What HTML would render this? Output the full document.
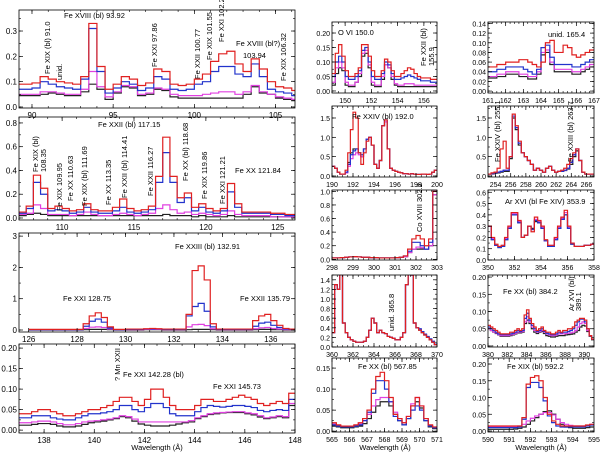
<!DOCTYPE html>
<html><head><meta charset="utf-8"><style>
html,body{margin:0;padding:0;background:#fff;}
svg{display:block;font-family:"Liberation Sans",sans-serif;}
</style></head><body>
<svg id="fig" width="600" height="453" viewBox="0 0 600 453"></svg>
<script>
// ---------- DATA (wavelength bin start/step, series values) ----------
const p1Start=89.25, p1Step=0.5;
const p1Red=[.09,.09,.095,.12,.11,.10,.095,.09,.12,.33,.16,.07,.09,.12,.11,.085,.095,.15,.14,.09,.085,.09,.11,.13,.18,.21,.22,.17,.14,.19,.15,.10,.08,.075,.065];
const p1Blue=[.07,.07,.075,.10,.09,.08,.075,.07,.11,.31,.14,.055,.075,.10,.09,.065,.075,.12,.11,.07,.065,.07,.09,.10,.14,.16,.16,.13,.12,.17,.12,.07,.06,.055,.045];
const p1Mag=[.05,.05,.05,.06,.06,.055,.05,.05,.07,.14,.08,.04,.06,.085,.08,.05,.055,.075,.07,.05,.045,.045,.045,.05,.055,.06,.06,.05,.06,.085,.06,.05,.04,.035,.03];
const p1Blk=[.045,.045,.045,.05,.055,.05,.045,.045,.06,.09,.07,.03,.055,.08,.075,.045,.05,.07,.065,.04,.035,.035,.035,.035,.035,.035,.035,.035,.05,.08,.055,.05,.035,.03,.025];

const p2Start=107.25, p2Step=0.5;
const p2Red=[.05,.1,.36,.25,.08,.1,.08,.06,.07,.12,.07,.06,.06,.09,.16,.08,.06,.07,.1,.35,.68,.35,.17,.21,.09,.12,.08,.06,.08,.29,.12,.05,.05,.05,.05,.04,.04,.03,.03];
const p2Blue=[.04,.08,.3,.2,.06,.07,.06,.04,.05,.09,.05,.04,.04,.06,.09,.05,.04,.05,.07,.3,.55,.3,.13,.17,.06,.09,.05,.04,.06,.22,.09,.04,.04,.04,.04,.03,.03,.02,.02];
const p2Mag=[.03,.04,.11,.08,.03,.03,.03,.02,.03,.05,.03,.02,.02,.03,.04,.03,.02,.03,.04,.08,.11,.07,.04,.05,.03,.04,.03,.02,.03,.06,.03,.02,.02,.02,.02,.01,.01,.01,.01];
const p2Blk=[.02,.03,.04,.03,.02,.02,.02,.02,.02,.02,.02,.02,.02,.02,.02,.02,.02,.02,.02,.02,.03,.02,.02,.02,.01,.02,.01,.01,.01,.02,.01,.01,.01,.01,.01,.01,.01,.01,.01];

const p3Start=126.125, p3Step=0.25;
const p3Red=[.02,.02,.02,.02,.02,.02,.02,.02,.02,.2,.45,.55,.4,.1,.02,.02,.03,.03,.03,.04,.05,.04,.03,.03,.03,.03,.5,1.9,2.05,1.6,.2,.03,.03,.03,.03,.03,.03,.3,.45,.5,.3,.15,.05,.03];
const p3Blue=[.01,.01,.01,.01,.01,.01,.01,.01,.01,.12,.28,.35,.25,.06,.01,.01,.02,.02,.02,.03,.03,.03,.02,.02,.02,.02,.45,.75,.85,.6,.1,.02,.02,.02,.02,.02,.02,.12,.22,.25,.15,.08,.03,.02];
const p3Mag=[.01,.01,.01,.01,.01,.01,.01,.01,.01,.05,.09,.1,.08,.03,.01,.01,.01,.01,.01,.02,.02,.02,.01,.01,.01,.01,.1,.17,.18,.14,.04,.01,.01,.01,.01,.01,.01,.04,.07,.08,.05,.03,.01,.01];
const p3Blk=[0,0,0,0,0,0,0,0,0,.01,.02,.02,.02,.01,0,0,0,0,0,.01,.01,.01,0,0,0,0,.01,.02,.02,.02,.01,0,0,0,0,0,0,.01,.02,.02,.01,.01,0,0];

const p4Start=137.125, p4Step=0.25;
const p4Red=[.04,.04,.045,.05,.05,.045,.04,.035,.035,.04,.045,.05,.05,.055,.06,.07,.08,.08,.07,.06,.075,.1,.1,.08,.06,.05,.05,.05,.06,.075,.075,.07,.07,.075,.08,.085,.08,.075,.065,.06,.065,.07,.065,.09];
const p4Blue=[.03,.03,.035,.035,.035,.03,.027,.025,.025,.03,.035,.04,.04,.042,.045,.05,.06,.06,.05,.045,.055,.065,.065,.055,.04,.035,.035,.035,.045,.055,.06,.058,.056,.058,.06,.06,.058,.055,.048,.045,.048,.05,.048,.075];
const p4Mag=[.018,.018,.02,.022,.022,.02,.016,.013,.013,.016,.02,.022,.023,.025,.027,.03,.035,.033,.027,.02,.02,.02,.02,.02,.02,.02,.02,.023,.03,.035,.04,.042,.043,.044,.045,.045,.042,.04,.035,.03,.032,.035,.033,.065];
const p4Blk=[.012,.012,.014,.016,.016,.014,.01,.008,.008,.01,.014,.018,.02,.022,.025,.028,.033,.03,.022,.015,.012,.01,.01,.01,.012,.015,.018,.02,.028,.033,.038,.04,.042,.043,.043,.043,.04,.037,.032,.028,.03,.033,.03,.06];

const r1Start=149.125, r1Step=0.25;
const r1Red=[.06,.13,.16,.12,.07,.05,.05,.06,.08,.16,.16,.12,.07,.05,.05,.07,.11,.1,.07,.05,.05,.06,.07,.08,.075,.06,.05,.045,.045,.045,.04,.04];
const r1Blue=[.05,.1,.12,.1,.05,.04,.04,.05,.07,.14,.15,.1,.05,.04,.04,.06,.1,.09,.06,.04,.04,.045,.05,.055,.05,.045,.04,.035,.035,.035,.03,.03];
const r1Mag=[.03,.08,.1,.08,.03,.02,.02,.03,.06,.13,.14,.09,.03,.02,.02,.05,.09,.08,.05,.025,.02,.02,.025,.025,.025,.02,.02,.02,.02,.02,.02,.02];
const r1Blk=[.02,.06,.08,.07,.02,.015,.015,.03,.05,.12,.13,.08,.02,.015,.015,.04,.09,.08,.04,.02,.015,.015,.015,.015,.015,.015,.015,.015,.015,.015,.015,.015];

const c1Start=161.125, c1Step=0.25;
const c1Red=[.05,.05,.055,.055,.06,.06,.06,.065,.065,.06,.055,.05,.06,.1,.105,.08,.08,.095,.09,.075,.07,.075,.08,.085];
const c1Blue=[.04,.04,.045,.045,.05,.05,.05,.05,.045,.04,.035,.045,.09,.095,.07,.055,.055,.055,.055,.05,.05,.055,.06,.065];
const c1Mag=[.03,.03,.035,.035,.04,.04,.04,.035,.035,.03,.03,.04,.08,.085,.06,.045,.045,.045,.045,.04,.04,.045,.05,.055];
const c1Blk=[.027,.027,.03,.03,.035,.035,.035,.03,.03,.025,.025,.035,.075,.08,.055,.04,.04,.04,.04,.035,.035,.04,.045,.05];

const r2Start=190.125, r2Step=0.25;
const r2Red=[.25,.2,.1,.05,.05,.15,.6,1.2,1.65,1.5,.6,.3,.6,.9,1.0,.8,.3,.2,.4,1.3,1.45,.7,.2,.15,.12,.1,.08,.06,.06,.05,.06,.05,.04,.04,.05,.05,.04,.05,.1,.15];
const r2Blue=[.25,.2,.1,.05,.05,.1,.3,.55,.65,.7,.6,.55,.7,.95,1.0,.8,.3,.2,.4,1.3,1.45,.7,.2,.15,.12,.1,.08,.06,.06,.05,.06,.05,.04,.04,.05,.05,.04,.05,.1,.15];
const r2Mag=[.25,.2,.1,.05,.05,.08,.25,.45,.55,.6,.55,.5,.7,.95,1.0,.8,.3,.2,.4,1.3,1.4,.7,.2,.15,.12,.1,.08,.06,.06,.05,.06,.05,.04,.04,.05,.05,.04,.05,.1,.15];
const r2Blk=[.25,.2,.1,.05,.05,.1,.35,.6,.7,.7,.6,.5,.7,.95,1.0,.8,.3,.2,.4,1.3,1.45,.7,.2,.15,.12,.1,.08,.06,.06,.05,.06,.05,.04,.04,.05,.05,.04,.05,.1,.15];

const r3Start=298.1, r3Step=0.2;
const r3Red=[.02,.02,.025,.03,.035,.04,.035,.03,.03,.025,.025,.02,.02,.02,.02,.025,.03,.05,.15,.3,.35,.3,.2,.3,1.0];
const r3Blue=[.02,.02,.025,.03,.035,.04,.035,.03,.03,.025,.025,.02,.02,.02,.02,.025,.03,.05,.12,.25,.25,.2,.15,.25,1.0];
const r3Mag=[.02,.02,.025,.03,.035,.04,.035,.03,.03,.025,.025,.02,.02,.02,.02,.025,.03,.04,.1,.15,.18,.17,.15,.2,.95];
const r3Blk=[.02,.02,.025,.03,.035,.04,.035,.03,.03,.025,.025,.02,.02,.02,.02,.025,.03,.04,.1,.15,.15,.15,.15,.2,.95];

const r4Start=360.125, r4Step=0.25;
const r4Red=[.3,1.3,1.2,1.6,.5,.3,.2,.15,.12,.1,.1,.1,.12,.2,.35,.6,.5,.3,.35,.3,.28,.22,.2,.18,.15,.15,.2,.3,1.3,1.6,1.5,.5,.4,.35,.3,.25,.2,.15,.1,.05];
const r4Blue=[.3,1.3,1.2,1.6,.5,.3,.2,.15,.12,.1,.1,.1,.12,.2,.35,.6,.5,.3,.35,.3,.28,.22,.2,.18,.15,.15,.2,.3,1.3,1.6,1.5,.5,.4,.38,.32,.27,.22,.17,.12,.06];
const r4Mag=[.3,1.3,1.2,1.6,.5,.3,.2,.15,.12,.1,.1,.1,.12,.2,.35,.6,.5,.3,.35,.3,.28,.22,.2,.18,.15,.15,.2,.3,1.3,1.6,1.5,.5,.4,.36,.31,.26,.21,.16,.11,.05];
const r4Blk=[.3,1.3,1.2,1.6,.5,.3,.2,.15,.12,.1,.1,.1,.12,.2,.35,.6,.5,.3,.35,.3,.28,.22,.2,.18,.15,.15,.2,.3,1.3,1.6,1.5,.5,.4,.35,.3,.25,.2,.15,.1,.05];

const c2Start=253.2, c2Step=0.4;
const c2Red=[.05,.08,.1,.2,.7,.9,.2,.5,1.6,1.3,.9,.6,.5,.4,.3,.15,.2,.15,.1,.2,.25,.15,.1,.12,.15,.2,.3,.45,.6,.7,.4,.1,.05,.05,.05];
const c2Blue=[.05,.06,.08,.1,.12,.15,.15,.5,1.55,1.25,.85,.6,.5,.4,.3,.15,.2,.15,.1,.2,.25,.15,.1,.12,.12,.15,.2,.35,.55,.7,.4,.1,.05,.05,.05];
const c2Mag=[.05,.06,.08,.1,.12,.15,.15,.5,1.55,1.25,.85,.6,.5,.4,.3,.15,.2,.15,.1,.2,.25,.15,.1,.12,.12,.15,.2,.35,.55,.7,.4,.1,.05,.05,.05];
const c2Blk=[.05,.05,.07,.08,.1,.12,.12,.45,1.5,1.2,.8,.6,.5,.4,.3,.15,.2,.15,.1,.2,.25,.15,.1,.12,.12,.14,.18,.3,.5,.65,.4,.1,.05,.05,.05];

const c3Start=350.125, c3Step=0.25;
const c3Red=[.3,.2,.14,.12,.13,.2,.3,.42,.42,.35,.2,.22,.3,.25,.38,.35,.3,.18,.13,.13,.2,.3,.38,.44,.3,.15,.12,.12,.12,.13,.13,.14];
const c3Blue=[.3,.18,.13,.11,.12,.18,.28,.4,.4,.33,.2,.22,.3,.27,.35,.33,.28,.17,.12,.12,.18,.28,.36,.4,.28,.14,.12,.12,.12,.13,.13,.14];
const c3Mag=[.3,.19,.13,.12,.13,.19,.29,.41,.41,.34,.2,.22,.3,.27,.36,.34,.29,.17,.13,.13,.19,.29,.37,.42,.29,.15,.12,.12,.12,.13,.13,.14];
const c3Blk=[.3,.18,.13,.11,.12,.18,.28,.4,.4,.33,.2,.22,.3,.28,.34,.33,.28,.17,.12,.12,.18,.28,.36,.4,.28,.14,.12,.12,.12,.13,.13,.14];

const c4Start=380.125, c4Step=0.25;
const c4Red=[.06,.055,.05,.045,.04,.035,.035,.035,.035,.04,.04,.045,.05,.045,.05,.09,.105,.08,.065,.055,.045,.05,.055,.045,.04,.04,.035,.035,.04,.045,.04,.045,.045,.05,.05,.055,.07,.075,.08,.08,.075,.05,.03,.02];
const c4Blue=[.055,.05,.045,.04,.035,.033,.033,.033,.033,.035,.037,.04,.045,.042,.045,.08,.095,.075,.06,.05,.042,.045,.05,.042,.037,.035,.033,.033,.035,.04,.038,.04,.04,.042,.045,.05,.06,.07,.078,.078,.07,.05,.03,.02];
const c4Mag=[.05,.045,.04,.038,.033,.03,.03,.03,.03,.032,.034,.037,.04,.04,.042,.07,.085,.07,.055,.045,.04,.042,.045,.04,.035,.032,.03,.03,.032,.035,.035,.035,.036,.037,.038,.04,.045,.055,.065,.07,.065,.045,.03,.02];
const c4Blk=[.05,.045,.04,.036,.032,.028,.028,.028,.028,.03,.032,.035,.038,.038,.04,.065,.075,.065,.05,.04,.036,.04,.042,.036,.03,.028,.026,.026,.028,.03,.03,.03,.032,.033,.034,.035,.04,.045,.055,.06,.058,.042,.028,.018];

const r5Start=565.125, r5Step=0.25;
const r5Red=[.02,.015,.012,.012,.012,.015,.02,.03,.05,.1,.13,.14,.12,.08,.04,.03,.02,.035,.06,.08,.06,.03,.015,.01];
const r5Blue=[.015,.012,.01,.01,.01,.012,.015,.025,.045,.09,.12,.12,.1,.07,.035,.025,.015,.03,.05,.06,.05,.025,.012,.008];
const r5Mag=[.017,.013,.011,.011,.011,.013,.017,.025,.04,.06,.075,.08,.08,.07,.045,.03,.02,.035,.065,.08,.06,.03,.013,.008];
const r5Blk=[.012,.01,.008,.008,.008,.01,.012,.018,.03,.045,.06,.07,.07,.06,.04,.025,.015,.03,.06,.07,.055,.025,.01,.006];

const c5Start=590.1, c5Step=0.2;
const c5Red=[.015,.015,.015,.015,.015,.015,.015,.015,.04,.14,.16,.165,.15,.1,.05,.03,.02,.015,.015,.015,.015,.015,.015,.018,.02];
const c5Blue=[.01,.01,.01,.01,.01,.01,.01,.012,.035,.13,.145,.145,.13,.09,.045,.025,.015,.012,.012,.012,.012,.012,.012,.015,.018];
const c5Mag=[.012,.012,.012,.012,.012,.012,.013,.015,.02,.03,.038,.045,.05,.055,.055,.048,.035,.025,.02,.017,.015,.015,.015,.017,.02];
const c5Blk=[.005,.005,.005,.005,.005,.005,.006,.008,.012,.02,.03,.04,.05,.058,.06,.05,.035,.02,.012,.01,.008,.008,.008,.01,.012];

// ---------- drawing ----------
const NS="http://www.w3.org/2000/svg";
const svg=document.getElementById('fig');
function el(tag,attrs,parent){const e=document.createElementNS(NS,tag);for(const k in attrs)e.setAttribute(k,attrs[k]);(parent||svg).appendChild(e);return e;}
const COLORS={blk:'#222',mag:'#e040e0',blue:'#2233cc',red:'#e02020'};
let clipId=0;
function panel(name,box,xr,yr,xt,xminor,yt,yminor,ydec,start,step,series){
  const [x0,y0,x1,y1]=box;
  const fs=x0>300?7:8;
  const g=el('g',{});
  
  
  const sx=v=>x0+(v-xr[0])/(xr[1]-xr[0])*(x1-x0);
  const sy=v=>y1-(v-yr[0])/(yr[1]-yr[0])*(y1-y0);
  const cid='c'+(clipId++);
  const cp=el('clipPath',{id:cid},g);el('rect',{x:x0,y:y0,width:x1-x0,height:y1-y0},cp);
  const sg=el('g',{'clip-path':'url(#'+cid+')'},g);
  ['blk','mag','blue','red'].forEach(k=>{
    const vals=series[k];let d='';
    vals.forEach((v,i)=>{const xa=sx(start-step/2+i*step),xb=sx(start+step/2+i*step),y=sy(v);
      d+=(i===0?'M'+xa+','+y:'L'+xa+','+y)+'L'+xb+','+y;});
    const p=el('path',{d:d,fill:'none',stroke:COLORS[k],'stroke-width':1.2},sg);
    
    
  });
  const fr=el('rect',{x:x0,y:y0,width:x1-x0,height:y1-y0,fill:'none',stroke:'#000','stroke-width':0.8},g);
  
  
  for(let v=Math.ceil(xr[0]/xminor)*xminor;v<=xr[1]+1e-9;v+=xminor){const x=sx(v);
    el('line',{x1:x,x2:x,y1:y1,y2:y1-2,stroke:'#000','stroke-width':0.6},g);el('line',{x1:x,x2:x,y1:y0,y2:y0+2,stroke:'#000','stroke-width':0.6},g);}
  for(let v=Math.ceil(yr[0]/yminor)*yminor;v<=yr[1]+1e-9;v+=yminor){const y=sy(v);
    el('line',{x1:x0,x2:x0+2,y1:y,y2:y,stroke:'#000','stroke-width':0.6},g);el('line',{x1:x1,x2:x1-2,y1:y,y2:y,stroke:'#000','stroke-width':0.6},g);}
  xt.forEach(v=>{const x=sx(v);
    el('line',{x1:x,x2:x,y1:y1,y2:y1-4,stroke:'#000','stroke-width':0.7},g);el('line',{x1:x,x2:x,y1:y0,y2:y0+4,stroke:'#000','stroke-width':0.7},g);
    const t=el('text',{x:x,y:y1+10,'font-size':fs,'text-anchor':'middle'},g);t.textContent=String(v);
    
    });
  yt.forEach(v=>{const y=sy(v);
    el('line',{x1:x0,x2:x0+4,y1:y,y2:y,stroke:'#000','stroke-width':0.7},g);el('line',{x1:x1,x2:x1-4,y1:y,y2:y,stroke:'#000','stroke-width':0.7},g);
    const t=el('text',{x:x0-2,y:y+3,'font-size':fs,'text-anchor':'end'},g);t.textContent=v.toFixed(ydec);
    
    });
}
const S=(r,b,m,k)=>({red:r,blue:b,mag:m,blk:k});
panel('panel-90-106',[19,10,295,108],[89.2,106.2],[-0.004,0.383],[90,95,100,105],1,[0,.1,.2,.3],.05,1,p1Start,p1Step,S(p1Red,p1Blue,p1Mag,p1Blk));
panel('panel-107-126',[19,117,295,220],[107,126.2],[-0.017,0.85],[110,115,120,125],1,[0,.2,.4,.6,.8],.1,1,p2Start,p2Step,S(p2Red,p2Blue,p2Mag,p2Blk));
panel('panel-126-137',[19,233,295,332],[125.6,137],[-0.064,3.1],[126,128,130,132,134,136],.5,[0,1,2,3],.5,0,p3Start,p3Step,S(p3Red,p3Blue,p3Mag,p3Blk));
panel('panel-137-148',[19,344,295,433],[137,148],[-0.007,0.21],[138,140,142,144,146,148],.5,[0,.05,.1,.15,.2],.025,2,p4Start,p4Step,S(p4Red,p4Blue,p4Mag,p4Blk));
panel('panel-149-157',[332,22,437,93],[149,157],[-0.007,0.238],[150,152,154,156],.5,[0,.05,.1,.15,.2],.025,2,r1Start,r1Step,S(r1Red,r1Blue,r1Mag,r1Blk));
panel('panel-190-200',[332,106,437,177],[190,200],[-0.026,1.81],[190,192,194,196,198,200],.5,[0,.5,1,1.5],.25,1,r2Start,r2Step,S(r2Red,r2Blue,r2Mag,r2Blk));
panel('panel-298-303',[332,190,437,260],[298,303],[-0.01,1.02],[298,299,300,301,302,303],.25,[0,.2,.4,.6,.8,1],.1,1,r3Start,r3Step,S(r3Red,r3Blue,r3Mag,r3Blk));
panel('panel-360-370',[332,275,437,347],[360,370],[0,1.5],[360,362,364,366,368,370],.5,[0,.2,.4,.6,.8,1,1.2,1.4],.1,1,r4Start,r4Step,S(r4Red,r4Blue,r4Mag,r4Blk));
panel('panel-565-571',[332,358,437,432],[565,571],[-0.002,0.174],[565,566,567,568,569,570,571],.25,[0,.05,.1,.15],.025,2,r5Start,r5Step,S(r5Red,r5Blue,r5Mag,r5Blk));
panel('panel-161-167',[488,22,594,93],[161,167],[-0.004,0.143],[161,162,163,164,165,166,167],.25,[0,.02,.04,.06,.08,.1,.12,.14],.01,2,c1Start,c1Step,S(c1Red,c1Blue,c1Mag,c1Blk));
panel('panel-253-267',[488,106,594,177],[253,267],[-0.026,1.81],[254,256,258,260,262,264,266],.5,[0,.5,1,1.5],.25,1,c2Start,c2Step,S(c2Red,c2Blue,c2Mag,c2Blk));
panel('panel-350-358',[488,190,594,260],[350,358],[0,0.62],[350,352,354,356,358],.5,[0,.1,.2,.3,.4,.5,.6],.05,1,c3Start,c3Step,S(c3Red,c3Blue,c3Mag,c3Blk));
panel('panel-380-391',[488,275,594,347],[380,391],[-0.003,0.206],[380,382,384,386,388,390],.5,[0,.05,.1,.15,.2],.025,2,c4Start,c4Step,S(c4Red,c4Blue,c4Mag,c4Blk));
panel('panel-590-595',[488,358,594,432],[590,595],[-0.003,0.218],[590,591,592,593,594,595],.25,[0,.05,.1,.15,.2],.025,2,c5Start,c5Step,S(c5Red,c5Blue,c5Mag,c5Blk));

// ---------- annotations ----------
function lab(txt,x,y,rot,name,anchor){
  const t=el('text',{x:x,y:y,'font-size':7.5,'text-anchor':anchor||'start'});
  if(rot)t.setAttribute('transform','rotate(-90 '+x+' '+y+')');
  t.textContent=txt;
  
  
}
lab('Fe XVIII (bl) 93.92',64,18,0,'label-fe18-93');
lab('Fe XIX (bl) 91.0',50,74,1,'label-fe19-91');
lab('unid.',62,80,1,'label-unid-92');
lab('Fe XXI 97.86',157,67,1,'label-fe21-97');
lab('Fe XXII 100.77',200,79,1,'label-fe22-100');
lab('Fe XIX 101.55',212,60,1,'label-fe19-101');
lab('Fe XXI 102.22',224,42,1,'label-fe21-102');
lab('Fe XVIII (bl?)',236,46,0,'label-fe18-103');
lab('103.94',243,58,0,'label-103-94');
lab('Fe XIX 106.32',286,81,1,'label-fe19-106');
lab('Fe XXII (bl) 117.15',98,127,0,'label-fe22-117');
lab('Fe XIX (bl)',38,172,1,'label-fe19-108');
lab('108.35',46,172,1,'label-108-35');
lab('Fe XIX 109.95',62,211,1,'label-fe19-109');
lab('Fe XX 110.63',73,201,1,'label-fe20-110');
lab('Fe XIX (bl) 111.69',87,206,1,'label-fe19-111');
lab('Fe XX 113.35',111,205,1,'label-fe20-113');
lab('Fe XXII (bl) 114.41',127,198,1,'label-fe22-114');
lab('Fe XXII 116.27',153,196,1,'label-fe22-116');
lab('Fe XX (bl) 118.68',188,181,1,'label-fe20-118');
lab('Fe XIX 119.86',207,199,1,'label-fe19-119');
lab('Fe XXI 121.21',225,204,1,'label-fe21-121');
lab('Fe XX 121.84',235,173,0,'label-fe20-121');
lab('Fe XXIII (bl) 132.91',175,249,0,'label-fe23-132');
lab('Fe XXI 128.75',63,301,0,'label-fe21-128');
lab('Fe XXII 135.79',240,301,0,'label-fe22-135');
lab('? Mn XXII',120,381,1,'label-mn22');
lab('Fe XXI 142.28  (bl)',123,377,0,'label-fe21-142');
lab('Fe XXI 145.73',213,389,0,'label-fe21-145');
lab('O VI 150.0',338,35,0,'label-o6-150');
lab('Fe XXII (bl)',426,66,1,'label-fe22-155');
lab('155.9',434,66,1,'label-155-9');
lab('unid. 165.4',548,37,0,'label-unid-165');
lab('Fe XXIV (bl) 192.0',352,119,0,'label-fe24-192');
lab('Fe XXIV (bl) 255.1',500,162,1,'label-fe24-255');
lab('Fe XXIII (bl) 263.7',573,162,1,'label-fe23-263');
lab('Co XVIII 302.2',422,232,1,'label-co18-302');
lab('Ar XVI (bl Fe XIV) 353.9',505,204,0,'label-ar16-353');
lab('unid. 365.8',394,331,1,'label-unid-365');
lab('Fe XX (bl) 384.2',503,294,0,'label-fe20-384');
lab('Ar XVI (bl)',574,311,1,'label-ar16-389');
lab('389.1',581,311,1,'label-389-1');
lab('Fe XX (bl) 567.85',358,369,0,'label-fe20-567');
lab('Fe XIX (bl) 592.2',507,369,0,'label-fe19-592');
lab('Wavelength (Å)',157,450,0,'x-axis-title-left','middle');
lab('Wavelength (Å)',385,450,0,'x-axis-title-middle','middle');
lab('Wavelength (Å)',541,450,0,'x-axis-title-right','middle');
</script>
</body></html>
